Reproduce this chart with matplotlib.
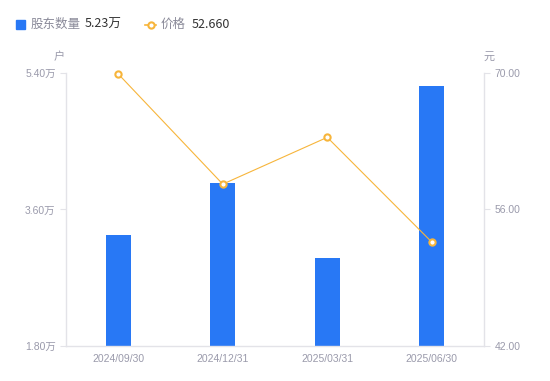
import matplotlib.pyplot as plt
from matplotlib.lines import Line2D
from matplotlib.patches import Rectangle

plt.rcParams['font.family'] = ['Noto Sans CJK SC', 'DejaVu Sans']

dates = ["2024/09/30", "2024/12/31", "2025/03/31", "2025/06/30"]
holders = [3.26, 3.95, 2.96, 5.23]   # 万户
prices = [69.9, 58.6, 63.4, 52.66]   # 元
left_ticks = [1.80, 3.60, 5.40]
right_ticks = [42.0, 56.0, 70.0]

BAR_C = "#2878f5"
LINE_C = "#f7b53b"
AXIS_C = "#e3e3e8"
TICK_C = "#9a9aab"
TICK_FONT = ['Liberation Sans', 'Noto Sans CJK SC']

fig = plt.figure(figsize=(5.5, 3.81), dpi=100)
ax = fig.add_axes([0.12, 0.0919, 0.76, 0.7165])
x = list(range(len(dates)))

ax.bar(x, holders, width=0.24, color=BAR_C, zorder=2)
ax.set_xlim(-0.5, len(dates) - 0.5)
ax.set_ylim(left_ticks[0], left_ticks[-1])
ax.set_yticks(left_ticks)
ax.set_yticklabels([f"{v:.2f}万" for v in left_ticks])
ax.set_xticks(x)
ax.set_xticklabels(dates)

ax2 = ax.twinx()
ax2.plot(x, prices, color=LINE_C, lw=0.8, marker='o', ms=4.5,
         mfc='white', mec=LINE_C, mew=1.5, zorder=3, clip_on=False)
ax2.set_ylim(right_ticks[0], right_ticks[-1])
ax2.set_yticks(right_ticks)
ax2.set_yticklabels([f"{v:.2f}" for v in right_ticks])

for a in (ax, ax2):
    for s in a.spines.values():
        s.set_visible(False)
    a.tick_params(colors=AXIS_C, labelcolor=TICK_C, labelsize=7.5, length=4, width=0.8)
    for lbl in a.get_xticklabels() + a.get_yticklabels():
        lbl.set_fontfamily(TICK_FONT)
ax.spines['left'].set_visible(True)
ax.spines['bottom'].set_visible(True)
ax2.spines['right'].set_visible(True)
for s in (ax.spines['left'], ax.spines['bottom'], ax2.spines['right']):
    s.set_color(AXIS_C)
    s.set_linewidth(1.0)
ax.tick_params(axis='x', length=0, pad=6)

# unit labels
fig.text(59 / 550, 1 - 57 / 381, "户", color=TICK_C, fontsize=8, ha='center', va='center')
fig.text(489 / 550, 1 - 57 / 381, "元", color=TICK_C, fontsize=8, ha='center', va='center')

# legend
ly = 1 - 24.5 / 381
fig.patches.append(Rectangle((16 / 550, 1 - 29 / 381), 9 / 550, 9 / 381,
                             transform=fig.transFigure, color=BAR_C, figure=fig))
fig.text(31 / 550, ly, "股东数量", color="#8a8a99", fontsize=9, va='center')
fig.text(85 / 550, ly, "5.23万", color="#333333", fontsize=9, va='center')
fig.lines.append(Line2D([145 / 550, 156 / 550], [ly, ly], transform=fig.transFigure,
                        color=LINE_C, lw=1.2, figure=fig))
fig.lines.append(Line2D([150.5 / 550], [ly], transform=fig.transFigure, color=LINE_C,
                        marker='o', ms=4.5, mfc='white', mec=LINE_C, mew=1.5, lw=0, figure=fig))
fig.text(161 / 550, ly, "价格", color="#8a8a99", fontsize=9, va='center')
fig.text(192 / 550, ly, "52.660", color="#333333", fontsize=9, va='center')

fig.savefig("out.png", dpi=100)
